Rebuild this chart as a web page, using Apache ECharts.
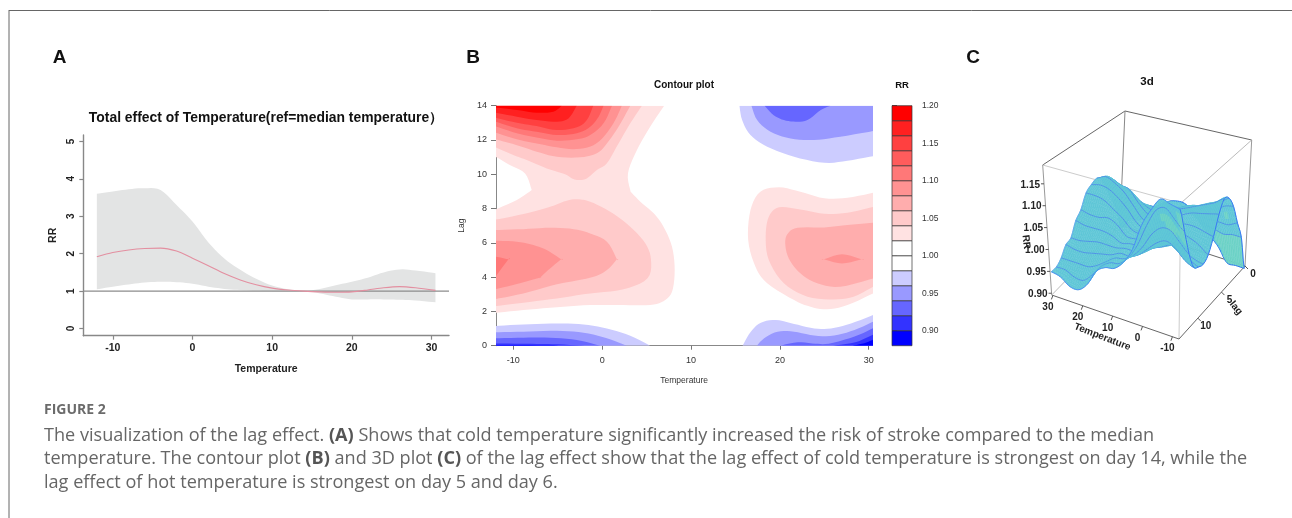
<!DOCTYPE html>
<html><head><meta charset="utf-8">
<style>html,body{margin:0;padding:0;background:#fff}#c{width:1292px;height:518px}</style>
<script src="https://cdn.jsdelivr.net/npm/echarts@6/dist/echarts.min.js"></script>
</head><body><div id="c"></div>
<script>
// ---- Panel A data
const tempA = [-12,-10,-8,-6,-4,-2,0,2,4,6,8,10,12,14,16,18,20,22,24,26,28,30.5];
const rrLower = [1.05,1.12,1.18,1.23,1.25,1.24,1.2,1.12,1.06,1.03,1.01,1.0,1.0,1.0,0.94,0.85,0.78,0.78,0.78,0.77,0.75,0.7];
const rrUpper = [3.6,3.66,3.72,3.75,3.7,3.3,2.86,2.3,1.87,1.57,1.33,1.15,1.05,1.0,1.06,1.16,1.25,1.36,1.5,1.58,1.55,1.48];
const rrMean  = [1.92,2.03,2.1,2.14,2.15,2.07,1.88,1.68,1.47,1.3,1.17,1.08,1.03,1.0,0.98,0.97,0.98,1.03,1.09,1.12,1.09,1.02];
const ticksAx = [-10,0,10,20,30];
const ticksAy = [0,1,2,3,4,5];

// ---- Panel B contours: [temperature, lag] along each level boundary (a repeated point keeps a sharp corner)
const c102a = [[-12,14],[-12,11.03],[-10.4,10.54],[-8.68,10.05],[-7.93,9.08],[-7.93,9.08],[-9.6,8.5],[-12,7.95],[-12,1.92],[-8.87,2.08],[-5.1,2.24],[-1.35,2.37],[2.4,2.37],[5.4,2.37],[6.9,2.6],[7.86,3.15],[8.16,4.41],[7.86,5.77],[6.9,6.94],[5.8,7.72],[4.3,8.4],[3.2,8.98],[3.2,8.98],[2.9,10.05],[3.9,11.4],[5.4,12.77],[6.9,13.94],[7,14]];
const c104a = [[-12,14],[-12,11.57],[-10,11.12],[-8.5,10.83],[-6.24,10.34],[-4.17,10],[-3.4,9.76],[-2.67,9.66],[-1.73,9.76],[-0.6,10.25],[0.53,10.64],[1.84,11.8],[3.16,12.97],[4.47,14]];
const c104b = [[-12,7.35],[-8.87,7.68],[-5.86,8.1],[-4,8.46],[-2.67,8.54],[-1.35,8.4],[0.9,7.82],[3.16,6.94],[4.85,5.97],[5.49,5.04],[5.1,3.93],[2.4,3.29],[-1.35,3.05],[-5.1,2.76],[-8.87,2.51],[-12,2.31]];
const c106a = [[-12,14],[-12,12.04],[-9.6,11.7],[-7.37,11.32],[-5.1,11.02],[-2.48,10.99],[-0.6,11.22],[0.53,11.8],[1.84,12.77],[3.16,14]];
const c106b = [[-12,6.75],[-8.87,6.8],[-5.86,6.88],[-3.2,6.8],[-1.35,6.55],[0.53,6.07],[1.66,5.04],[1.66,5.04],[0.53,4.41],[-1.16,3.99],[-5.1,3.58],[-8.87,3.05],[-12,2.72]];
const c108a = [[-12,14],[-12,12.43],[-9.6,12.04],[-7.37,11.8],[-5.1,11.57],[-2.86,11.47],[-0.98,11.7],[0.34,12.29],[1.47,13.16],[2.2,14]];
const c108b = [[-12,6.12],[-9.6,6.07],[-7.74,5.87],[-6.24,5.58],[-4.62,5.04],[-4.62,5.04],[-5.86,4.51],[-7,3.97],[-7,3.97],[-9.6,3.6],[-12,3.3]];
const c110a = [[-12,14],[-12,12.8],[-9.6,12.39],[-7.37,12.15],[-5.1,11.96],[-2.86,12.04],[-1.35,12.29],[0.15,12.97],[1.1,14]];
const c110b = [[-12,5.2],[-10.56,5.04],[-10.56,5.04],[-12,4.03]];
const c112a = [[-12,14],[-12,13.07],[-9.6,12.68],[-7.37,12.48],[-5.1,12.29],[-2.86,12.39],[-1.35,12.77],[-0.4,13.36],[0.15,14]];
const c114a = [[-12,14],[-12,13.3],[-9.6,13.0],[-7.37,12.81],[-5.1,12.58],[-2.86,12.74],[-1.73,13.16],[-1,14]];
const c116a = [[-12,14],[-12,13.6],[-9.6,13.36],[-7.37,13.16],[-5.1,13.07],[-3.8,13.26],[-2.86,14]];
const c118a = [[-12,14],[-12,13.9],[-9.6,13.75],[-7.37,13.59],[-5.5,13.65],[-4.55,14]];
const c102r = [[30.5,8.92],[27.6,8.63],[25,8.6],[22.3,8.98],[19.9,9.24],[17.8,8.98],[16.69,7.91],[16.43,6.16],[17.25,4.61],[18.57,3.64],[21.6,2.66],[23.45,2.27],[25.3,2.12],[27.6,2.37],[30.5,3.05]];
const c104r = [[30.5,8.1],[27.6,7.76],[25,7.7],[22.3,7.95],[19.9,8.07],[18.75,7.52],[18.4,6.36],[18.75,5],[20.45,3.64],[23.1,2.86],[26.1,2.7],[28.3,2.86],[30.5,3.44]];
const c106r = [[30.5,7.17],[27.6,7.04],[25,6.9],[22,6.88],[20.9,6.55],[20.6,5.97],[21,5.09],[22.3,4.22],[24.2,3.64],[26.8,3.44],[30.5,3.93]];
const c108r = [[24.96,5.04],[24.96,5.04],[27,5.33],[29.2,5.04],[29.2,5.04],[27,4.8]];
const b098tl = [[-12,0],[-12,1.15],[-8.87,1.24],[-5.1,1.3],[-2.1,1.24],[0.53,1.0],[3.16,0.58],[5.4,0]];
const b096tl = [[-12,0],[-12,0.78],[-8.87,0.82],[-5.1,0.87],[-2.1,0.76],[0.53,0.43],[2.78,0]];
const b094tl = [[-12,0],[-12,0.43],[-8.87,0.47],[-5.86,0.47],[-2.86,0.33],[-0.2,0]];
const b092tl = [[-12,0],[-12,0.13],[-8,0.11],[-5,0.08],[-2,0]];
const b090tl = [[-12,0],[-12,0.04],[-6,0.03],[-5,0]];
const b098tr = [[15.45,14],[15.75,13.16],[16.69,12.29],[18.57,11.61],[21.6,11.02],[25,10.67],[27.6,10.79],[30.5,11.06],[30.5,14]];
const b096tr = [[16.8,14],[17.44,13.16],[18.95,12.48],[21.2,12.09],[23.8,12],[26.8,12.19],[30.5,12.52],[30.5,14]];
const b094tr = [[18.27,14],[19.3,13.45],[20.45,13.16],[21.76,13.07],[23.1,13.16],[24.6,13.75],[25.7,14]];
const b098br = [[15.8,0],[16.73,0.82],[17.86,1.34],[19.55,1.5],[21.6,1.27],[23.87,1.01],[25.75,1.01],[28,1.3],[30.5,1.79],[30.5,0]];
const b096br = [[17.4,0],[18.23,0.43],[19.74,0.82],[21.6,0.82],[23.87,0.59],[26.1,0.59],[28.4,0.92],[30.5,1.4],[30.5,0]];
const b094br = [[20,0],[22,0.2],[24,0.12],[25.5,0.12],[28.4,0.53],[30.5,1.03],[30.5,0]];
const b092br = [[26,0],[28.5,0.2],[30.5,0.65],[30.5,0]];
const b090br = [[28.2,0],[29.5,0.15],[30.5,0.35],[30.5,0]];

// ---- Colour key: lower bound of each bin, and its fill
const binLows   = [0.88,0.90,0.92,0.94,0.96,0.98,1.00,1.02,1.04,1.06,1.08,1.10,1.12,1.14,1.16,1.18];
const binColors = ['#0000ff','#3333ff','#6666ff','#9999ff','#ccccff','#ffffff','#ffffff','#ffe2e2','#ffcaca','#ffadad','#ff9292','#ff7878','#ff5c5c','#ff4040','#ff2020','#ff0000'];
const keyTicks = [0.90,0.95,1.00,1.05,1.10,1.15,1.20];
const ticksBx = [-10,0,10,20,30];
const ticksBy = [0,2,4,6,8,10,12,14];
const colorOf = v => binColors[binLows.findIndex(l => Math.abs(l - v) < 1e-6)];

const contourLayers = [
  [1.02,c102a],[1.02,c102r],[1.04,c104a],[1.04,c104b],[1.04,c104r],
  [1.06,c106a],[1.06,c106b],[1.06,c106r],[1.08,c108a],[1.08,c108b],[1.08,c108r],
  [1.10,c110a],[1.10,c110b],[1.12,c112a],[1.14,c114a],[1.16,c116a],[1.18,c118a],
  [0.96,b098tl],[0.94,b096tl],[0.92,b094tl],[0.90,b092tl],[0.88,b090tl],
  [0.96,b098tr],[0.94,b096tr],[0.92,b094tr],
  [0.96,b098br],[0.94,b096br],[0.92,b094br],[0.90,b092br],[0.88,b090br]
];

// ---- Panel C data: RR by lag (rows 0..14) and temperature (columns)
const surfTemps = [-12,-9,-6,-3,0,3,6,9,12,15,18,21,24,27,30];
const surfLag0  = [.89,.89,.89,.92,.94,.96,.985,1,1,.99,.96,.94,.925,.92,.89];
const surfLag1  = [.975,.975,.97,.975,.98,.99,1,1,1,1,.975,.975,.98,.975,.945];
const surfLag2  = [1.02,1.01,1.01,1.01,1.01,1.01,1.01,1,1,1,1,.995,1,1,.985];
const surfLag3  = [1.07,1.065,1.05,1.05,1.04,1.04,1.03,1.01,1,1.005,1.015,1.03,1.04,1.04,1.02];
const surfLag4  = [1.10,1.085,1.075,1.065,1.06,1.05,1.035,1.015,1,1.01,1.03,1.055,1.06,1.07,1.06];
const surfLag5  = [1.11,1.095,1.085,1.075,1.065,1.055,1.035,1.015,1,1.01,1.035,1.06,1.075,1.085,1.075];
const surfLag6  = [1.085,1.08,1.075,1.07,1.06,1.05,1.03,1.01,1,1.01,1.035,1.055,1.07,1.075,1.07];
const surfLag7  = [1.045,1.05,1.055,1.055,1.05,1.04,1.02,1.005,1,1.005,1.025,1.04,1.055,1.06,1.06];
const surfLag8  = [1.015,1.03,1.04,1.045,1.04,1.025,1.01,1,1,1,1.02,1.03,1.025,1.025,1.03];
const surfLag9  = [1.005,1.01,1.02,1.03,1.025,1.02,1.005,1,1,.995,1.005,1.01,1.01,1.01,1.015];
const surfLag10 = [1.01,1.02,1.03,1.04,1.03,1.02,1.005,1,1,.995,.995,.995,.99,.985,.985];
const surfLag11 = [1.02,1.03,1.05,1.06,1.05,1.03,1.01,1,1,.99,.985,.98,.975,.975,.98];
const surfLag12 = [1.06,1.08,1.10,1.10,1.08,1.045,1.02,1.005,1,.985,.97,.96,.96,.96,.96];
const surfLag13 = [1.12,1.14,1.16,1.15,1.11,1.06,1.025,1.005,1,.985,.96,.94,.94,.95,.95];
const surfLag14 = [1.18,1.185,1.19,1.16,1.12,1.06,1.025,1.005,1,.985,.95,.93,.93,.945,.95];
const surface = [surfLag0,surfLag1,surfLag2,surfLag3,surfLag4,surfLag5,surfLag6,surfLag7,surfLag8,surfLag9,surfLag10,surfLag11,surfLag12,surfLag13,surfLag14];
const boxTickT = [-10,0,10,20,30];
const boxTickLag = [0,5,10];
const boxTickRR = [0.90,0.95,1.00,1.05,1.10,1.15];
const boxNames = [['Temperature',1102.3,337,-0.37],['lag',1236,308,-0.87],['RR',1026,242,-1.45]];

// ---- 3D box: the corners of the box on the page, mapped trilinearly
const T_HI = 30.4, T_LO = -12.2, LAG_MAX = 14, Z_LO = 0.896, Z_HI = 1.193;
const corner = {
  bb:[1120,225], bt:[1125,111], lb:[1051.7,295], lt:[1042.7,165],
  fb:[1179,339], ft:[1180.7,203.3], rb:[1245,266], rt:[1251.7,140]
};
function project(t, lag, rr){
  const u=(T_HI-t)/(T_HI-T_LO), v=lag/LAG_MAX, w=(rr-Z_LO)/(Z_HI-Z_LO);
  const mix=(a,b,s)=>[a[0]+(b[0]-a[0])*s,a[1]+(b[1]-a[1])*s];
  const bot=mix(mix(corner.bb,corner.lb,v),mix(corner.rb,corner.fb,v),u);
  const top=mix(mix(corner.bt,corner.lt,v),mix(corner.rt,corner.ft,v),u);
  return mix(bot,top,w);
}
function cr(a,b,c,d,s){return 0.5*(2*b+(c-a)*s+(2*a-5*b+4*c-d)*s*s+(3*b-a-3*c+d)*s*s*s);}
// rounds a drawn outline between its read points; runs along the plot edge stay straight
function roundOutline(pts,onEdge,closed){
  const out=[],n=pts.length,at=i=>closed?pts[(i+n)%n]:pts[Math.max(0,Math.min(n-1,i))];
  const last=closed?n:n-1;
  for(let i=0;i<last;i++){
    const p0=at(i-1),p1=at(i),p2=at(i+1),p3=at(i+2);
    if(onEdge&&onEdge(p1)&&onEdge(p2)){out.push(p1);continue;}
    const a=(onEdge&&onEdge(p1))?p1:p0, d=(onEdge&&onEdge(p2))?p2:p3;
    for(let k=0;k<5;k++){const s=k/5;out.push([cr(a[0],p1[0],p2[0],d[0],s),cr(a[1],p1[1],p2[1],d[1],s)]);}
  }
  if(!closed)out.push(pts[n-1]);
  return out;
}
const plotEdge=p=>p[0]<=-12||p[0]>=30.5||p[1]<=0||p[1]>=14;
function surfAt(col,row){
  const cl=(v,n)=>Math.max(0,Math.min(n,v));
  const nC=surfTemps.length-1,nR=surface.length-1;
  const c0=Math.min(Math.floor(col),nC-1),r0=Math.min(Math.floor(row),nR-1);
  const sc=col-c0,sr=row-r0,vals=[];
  for(let r=-1;r<=2;r++){const R=surface[cl(r0+r,nR)];
    vals.push(cr(R[cl(c0-1,nC)],R[c0],R[c0+1],R[cl(c0+2,nC)],sc));}
  return cr(vals[0],vals[1],vals[2],vals[3],sr);
}
const SUB_T=5, SUB_L=3, quads=[];
{
  const nC=(surfTemps.length-1)*SUB_T, nL=(surface.length-1)*SUB_L;
  const P=(i,j)=>{const col=i/SUB_T,row=j/SUB_L;return project(surfTemps[0]+col*3,row,surfAt(col,row));};
  for(let j=0;j<nL;j++)for(let i=nC-1;i>=0;i--){
    const a=P(i,j),b=P(i+1,j),c=P(i+1,j+1),d=P(i,j+1);
    const steep=Math.abs(surfAt(i/SUB_T,j/SUB_L)-surfAt(i/SUB_T,(j+1)/SUB_L));
    quads.push({a,b,c,d,lagLine:(j%SUB_L===0&&j>0),first:j===0,last:j===nL-1,lo:i===0,hi:i===nC-1,steep});
  }
}
const BOX = [
  ['lt','bt','#666'],['bt','rt','#666'],['lt','ft','#ccc'],['ft','rt','#bbb'],
  ['lt','lb','#999'],['bt','bb','#888'],['ft','fb','#ccc'],['rt','rb','#999'],
  ['lb','fb','#666'],['fb','rb','#666'],['lb','bb','#bbb'],['bb','rb','#666']
];
const ARIAL='"Liberation Sans",Arial,sans-serif';
const CAP='"Open Sans",Lato,sans-serif';
const dark='#222';

function ln(a,b,st){return {type:'line',shape:{x1:a[0],y1:a[1],x2:b[0],y2:b[1]},style:st,silent:true};}

const capRich={n:{fontFamily:CAP,fontSize:18.1,fontWeight:'normal',color:'#666'},b:{fontFamily:CAP,fontSize:18.1,fontWeight:'bold',color:'#555'}};
function tt(text,x,y,size,opt){return Object.assign({text,left:x,top:y,padding:0,textAlign:'center',textVerticalAlign:'middle',
  textStyle:{fontFamily:ARIAL,fontWeight:'bold',fontSize:size,color:'#111'}},opt||{});}
function cap(text,y){return {text,left:44,top:y,padding:0,textVerticalAlign:'middle',textStyle:{fontWeight:'normal',rich:capRich}};}

const option={
  animation:false,backgroundColor:'#fff',
  title:[
    tt('A',59.5,58,19),tt('B',473,58,19),tt('C',973,58,19),
    tt('Total effect of Temperature(ref=median temperature）',266,118,13.9),
    tt('Contour plot',684,85.5,10),tt('RR',902,85.5,9.5),tt('3d',1147,81.5,11.5),
    {text:'FIGURE 2',left:44,top:410,padding:0,textVerticalAlign:'middle',textStyle:{fontFamily:CAP,fontSize:14,fontWeight:'bold',color:'#6b6b6b'}},
    cap('{n|The visualization of the lag effect. }{b|(A)}{n| Shows that cold temperature significantly increased the risk of stroke compared to the median}',435.5),
    cap('{n|temperature. The contour plot }{b|(B)}{n| and 3D plot }{b|(C)}{n| of the lag effect show that the lag effect of cold temperature is strongest on day 14, while the}',459),
    cap('{n|lag effect of hot temperature is strongest on day 5 and day 6.}',483)
  ],
  graphic:[
    {type:'line',shape:{x1:9,y1:10.5,x2:1292,y2:10.5},style:{stroke:'#666',lineWidth:1}},
    {type:'line',shape:{x1:9,y1:10,x2:9,y2:518},style:{stroke:'#666',lineWidth:1}}
  ],
  grid:[
    {left:83.3,top:135,width:365.7,height:200.7},
    {left:496,top:105.7,width:376.3,height:240},
    {left:892,top:105.7,width:20,height:240},
    {left:0,top:0,width:1292,height:518}
  ],
  xAxis:[
    {gridIndex:0,type:'value',min:-13.7,max:32.2,name:'Temperature',nameLocation:'middle',nameGap:28,
      nameTextStyle:{fontFamily:ARIAL,fontWeight:'bold',fontSize:10.5,color:dark},
      axisLine:{onZero:false,lineStyle:{color:'#888',width:1.4}},splitLine:{show:false},
      axisTick:{customValues:ticksAx,length:4,lineStyle:{color:'#888',width:1.2}},
      axisLabel:{customValues:ticksAx,margin:7,fontFamily:ARIAL,fontWeight:'bold',fontSize:10.5,color:dark}},
    {gridIndex:1,type:'value',min:-11.95,max:30.4,name:'Temperature',nameLocation:'middle',nameGap:30,
      nameTextStyle:{fontFamily:ARIAL,fontSize:8.5,color:'#333'},
      axisLine:{onZero:false,lineStyle:{color:'#888',width:1}},splitLine:{show:false},
      axisTick:{customValues:ticksBx,length:4,lineStyle:{color:'#777'}},
      axisLabel:{customValues:ticksBx,margin:10,fontFamily:ARIAL,fontSize:9,color:'#333'}},
    {gridIndex:2,type:'value',min:0,max:1,show:false},
    {gridIndex:3,type:'value',min:0,max:1292,show:false}
  ],
  yAxis:[
    {gridIndex:0,type:'value',min:-0.19,max:5.17,name:'RR',nameLocation:'middle',nameGap:25,
      nameTextStyle:{fontFamily:ARIAL,fontWeight:'bold',fontSize:10.5,color:dark},
      axisLine:{onZero:false,lineStyle:{color:'#888',width:1.4}},splitLine:{show:false},
      axisTick:{customValues:ticksAy,length:4,lineStyle:{color:'#888',width:1.2}},
      axisLabel:{customValues:ticksAy,rotate:90,margin:7,fontFamily:ARIAL,fontWeight:'bold',fontSize:10,color:dark}},
    {gridIndex:1,type:'value',min:0,max:14,name:'Lag',nameLocation:'middle',nameGap:29.5,
      nameTextStyle:{fontFamily:ARIAL,fontSize:8.5,color:'#333'},
      axisLine:{onZero:false,lineStyle:{color:'#888',width:1}},splitLine:{show:false},
      axisTick:{customValues:ticksBy,length:5,lineStyle:{color:'#777'}},
      axisLabel:{customValues:ticksBy,margin:9,fontFamily:ARIAL,fontSize:9,color:'#333'}},
    {gridIndex:2,type:'value',position:'right',min:0.88,max:1.20,
      axisLine:{show:false},splitLine:{show:false},
      axisTick:{customValues:keyTicks,length:5,lineStyle:{color:'#555'}},
      axisLabel:{customValues:keyTicks,margin:10,fontFamily:ARIAL,fontSize:8.5,color:'#333',formatter:v=>v.toFixed(2)}},
    {gridIndex:3,type:'value',min:0,max:518,inverse:true,show:false}
  ],
  series:[
    // confidence band: upper edge forward, lower edge back
    {type:'custom',xAxisIndex:0,yAxisIndex:0,coordinateSystem:'cartesian2d',z:2,clip:false,
      data:tempA.map((t,i)=>[t,rrUpper[i]]),
      renderItem(p,api){
        if(p.dataIndex!==0) return null;
        const up=roundOutline(tempA.map((t,i)=>[t,rrUpper[i]])),lo=roundOutline(tempA.map((t,i)=>[t,rrLower[i]])).reverse();
        return {type:'polygon',shape:{points:up.concat(lo).map(q=>api.coord(q))},style:{fill:'#e3e4e4'},silent:true};}},
    {type:'line',xAxisIndex:0,yAxisIndex:0,symbol:'none',lineStyle:{color:'#8c8c8c',width:1.4},
      data:[[-13.7,1],[32.2,1]],z:3},
    {type:'line',xAxisIndex:0,yAxisIndex:0,symbol:'none',smooth:0.3,lineStyle:{color:'#e38fa0',width:1.1},
      data:tempA.map((t,i)=>[t,rrMean[i]]),z:4},
    {type:'custom',xAxisIndex:1,yAxisIndex:1,clip:true,coordinateSystem:'cartesian2d',z:2,
      data:contourLayers.map(l=>[l[1][0][0],l[1][0][1]]),
      renderItem(p,api){const l=contourLayers[p.dataIndex];
        return {type:'polygon',shape:{points:roundOutline(l[1],plotEdge,true).map(q=>api.coord(q))},style:{fill:colorOf(l[0])},silent:true};}},
    {type:'custom',xAxisIndex:2,yAxisIndex:2,coordinateSystem:'cartesian2d',z:2,
      data:binLows.map(l=>[0,l]),
      renderItem(p,api){const lo=binLows[p.dataIndex],hi=lo+0.02,a=api.coord([0,hi]),b=api.coord([1,lo]);
        return {type:'rect',shape:{x:a[0],y:a[1],width:b[0]-a[0],height:b[1]-a[1]},
          style:{fill:binColors[p.dataIndex],stroke:'#333',lineWidth:0.7},silent:true};}},
    // 3D box behind the surface
    {type:'custom',xAxisIndex:3,yAxisIndex:3,coordinateSystem:'cartesian2d',z:2,
      data:BOX.map(b=>corner[b[0]]),
      renderItem(p,api){const b=BOX[p.dataIndex];
        return ln(api.coord(corner[b[0]]),api.coord(corner[b[1]]),{stroke:b[2],lineWidth:1});}},
    // 3D surface, painted from the back corner forward
    {type:'custom',xAxisIndex:3,yAxisIndex:3,coordinateSystem:'cartesian2d',z:3,progressive:0,clip:false,
      data:quads.map(q=>q.a),
      renderItem(p,api){const q=quads[p.dataIndex];
        const a=api.coord(q.a),b=api.coord(q.b),c=api.coord(q.c),d=api.coord(q.d);
        const fill=q.steep>0.02?'#6fd4c6':'#61c8d6';
        const kids=[{type:'polygon',shape:{points:[a,b,c,d]},style:{fill,stroke:fill,lineWidth:0.4},silent:true},
          ln(a,d,{stroke:'rgba(50,150,235,0.3)',lineWidth:0.5})];
        if(q.lagLine) kids.push(ln(a,b,{stroke:'#4f8eea',lineWidth:1}));
        if(q.first) kids.push(ln(a,b,{stroke:'#2b6cf5',lineWidth:1}));
        if(q.last) kids.push(ln(d,c,{stroke:'#4a8cf5',lineWidth:1}));
        if(q.lo) kids.push(ln(a,d,{stroke:'#3a78f5',lineWidth:1}));
        if(q.hi) kids.push(ln(b,c,{stroke:'#5aa0f0',lineWidth:0.8}));
        return {type:'group',children:kids};}},
    // 3D axis ticks and labels
    {type:'custom',xAxisIndex:3,yAxisIndex:3,coordinateSystem:'cartesian2d',z:4,
      data:boxTickT.map(t=>project(t,LAG_MAX,Z_LO)),
      renderItem(p,api){const c=api.coord(project(boxTickT[p.dataIndex],LAG_MAX,Z_LO));
        return {type:'group',children:[ln(c,[c[0]-1.5,c[1]+4],{stroke:'#555',lineWidth:1}),
          {type:'text',x:c[0]-5,y:c[1]+12,style:{text:String(boxTickT[p.dataIndex]),fontFamily:ARIAL,fontWeight:'bold',fontSize:10,fill:dark,align:'center',verticalAlign:'middle'},silent:true}]};}},
    {type:'custom',xAxisIndex:3,yAxisIndex:3,coordinateSystem:'cartesian2d',z:4,
      data:boxTickLag.map(l=>project(T_LO,l,Z_LO)),
      renderItem(p,api){const c=api.coord(project(T_LO,boxTickLag[p.dataIndex],Z_LO));
        return {type:'group',children:[ln(c,[c[0]+3,c[1]+3],{stroke:'#555',lineWidth:1}),
          {type:'text',x:c[0]+8,y:c[1]+8.5,style:{text:String(boxTickLag[p.dataIndex]),fontFamily:ARIAL,fontWeight:'bold',fontSize:10,fill:dark,align:'center',verticalAlign:'middle'},silent:true}]};}},
    {type:'custom',xAxisIndex:3,yAxisIndex:3,coordinateSystem:'cartesian2d',z:4,
      data:boxTickRR.map(r=>project(T_HI,LAG_MAX,r)),
      renderItem(p,api){const c=api.coord(project(T_HI,LAG_MAX,boxTickRR[p.dataIndex]));
        return {type:'group',children:[ln(c,[c[0]-3,c[1]],{stroke:'#555',lineWidth:1}),
          {type:'text',x:c[0]-4,y:c[1]+1,style:{text:boxTickRR[p.dataIndex].toFixed(2),fontFamily:ARIAL,fontWeight:'bold',fontSize:10,fill:dark,align:'right',verticalAlign:'middle'},silent:true}]};}},
    {type:'custom',xAxisIndex:3,yAxisIndex:3,coordinateSystem:'cartesian2d',z:4,
      data:boxNames.map(n=>[n[1],n[2]]),
      renderItem(p,api){const n=boxNames[p.dataIndex],c=api.coord([n[1],n[2]]);
        return {type:'text',x:c[0],y:c[1],rotation:n[3],style:{text:n[0],fontFamily:ARIAL,fontWeight:'bold',fontSize:10,fill:dark,align:'center',verticalAlign:'middle'},silent:true};}}
  ]
};
const chart=echarts.init(document.getElementById('c'),null,{renderer:'canvas'});
chart.setOption(option);
</script></body></html>
